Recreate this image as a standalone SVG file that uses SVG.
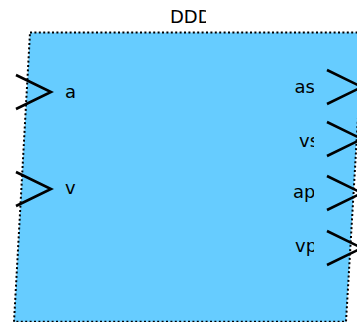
<svg xmlns="http://www.w3.org/2000/svg" width="357" height="322" viewBox="0 0 357 322">
  <style>
    .body { fill: #66CCFF; stroke: #000; stroke-width: 2; stroke-dasharray: 2 2.4; }
    .port { fill: none; stroke: #000; stroke-width: 2.6; stroke-linejoin: miter; }
    .lbl { font-family: "DejaVu Sans", Verdana, sans-serif; font-size: 18px; fill: #000; }
  </style>
  <defs>
    <clipPath id="clipR"><rect x="0" y="0" width="314" height="322"/></clipPath>
    <clipPath id="clipT"><rect x="0" y="0" width="206" height="322"/></clipPath>
  </defs>
  <g id="block">
    <polygon class="body" points="30,32.5 363,32.5 346,321.8 14,321.8"/>
    <text class="lbl" x="170" y="23" clip-path="url(#clipT)">DDD</text>
  </g>
  <g id="port-a">
    <polyline class="port" points="16,75 51,92 16,109"/>
    <text class="lbl" x="65" y="98">a</text>
  </g>
  <g id="port-v">
    <polyline class="port" points="16,172 51,189 16,206"/>
    <text class="lbl" x="65" y="194">v</text>
  </g>
  <g id="port-as">
    <polyline class="port" points="327,70 362,87 327,104"/>
    <text class="lbl" x="294.5" y="93" clip-path="url(#clipR)">as</text>
  </g>
  <g id="port-vs">
    <polyline class="port" points="327,122 362,139 327,156"/>
    <text class="lbl" x="299" y="146.5" clip-path="url(#clipR)">vs</text>
  </g>
  <g id="port-ap">
    <polyline class="port" points="327,176 362,193 327,210"/>
    <text class="lbl" x="293" y="198" clip-path="url(#clipR)">ap</text>
  </g>
  <g id="port-vp">
    <polyline class="port" points="327,231 362,248 327,265"/>
    <text class="lbl" x="295" y="252" clip-path="url(#clipR)">vp</text>
  </g>
  <g id="connectors"/>
</svg>
